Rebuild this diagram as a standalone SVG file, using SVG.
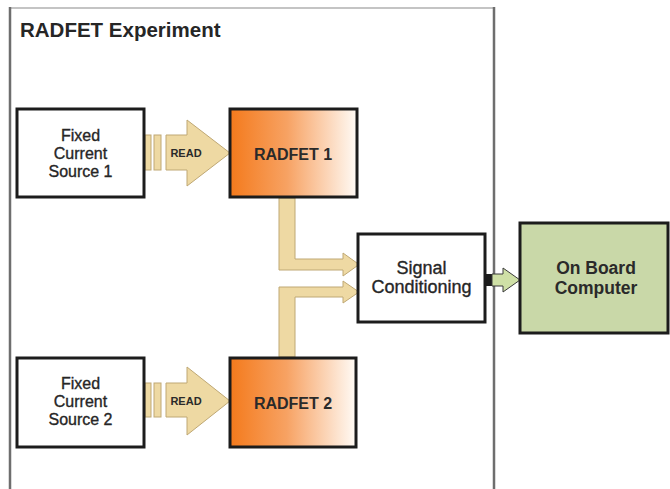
<svg xmlns="http://www.w3.org/2000/svg" width="670" height="489" viewBox="0 0 670 489">
  <defs>
    <linearGradient id="radfetFill" x1="0" y1="0" x2="1" y2="0">
      <stop offset="0" stop-color="#F47A1C"/>
      <stop offset="0.45" stop-color="#F7A263"/>
      <stop offset="1" stop-color="#FFFBF6"/>
    </linearGradient>
    <style>
      .box { stroke: #1c1c1c; stroke-width: 3; }
      .plain { fill: #ffffff; }
      .radfet { fill: url(#radfetFill); }
      .computer { fill: #C9D8A8; }
      .lbl { font-family: "Liberation Sans", Arial, sans-serif; font-size: 16px; fill: #262626; stroke: #262626; stroke-width: 0.35; text-anchor: middle; }
      .lbl-lg { font-size: 18px; }
      .bold { font-family: "Liberation Sans", Arial, sans-serif; font-weight: bold; fill: #2a2a2a; text-anchor: middle; }
      .tan { fill: #EED9A3; stroke: #BFA874; stroke-width: 1; }
      .frame-side { stroke: #6e6e6e; stroke-width: 2.5; fill: none; }
    </style>
  </defs>

  <rect width="670" height="489" fill="#ffffff"/>

  <!-- experiment enclosure -->
  <g id="experiment-frame">
    <line x1="10" y1="8" x2="494" y2="8" stroke="#c4c4c4" stroke-width="2"/>
    <line class="frame-side" x1="10" y1="7" x2="10" y2="489"/>
    <line class="frame-side" x1="494" y1="7" x2="494" y2="489"/>
    <text x="20" y="37" font-family="Liberation Sans, Arial, sans-serif" font-weight="bold" font-size="20.5" fill="#262626">RADFET Experiment</text>
  </g>

  <!-- connectors -->
  <g id="connectors">
    <!-- read arrow 1 -->
    <rect class="tan" x="145" y="135" width="6" height="35"/>
    <rect class="tan" x="154" y="135" width="7" height="35"/>
    <polygon class="tan" points="166,135 187,135 187,120 230,153 187,186 187,170 166,170"/>
    <text x="186" y="157" class="bold" font-size="11" fill="#4a3c22">READ</text>

    <!-- read arrow 2 -->
    <rect class="tan" x="145" y="383" width="6" height="34"/>
    <rect class="tan" x="154" y="383" width="7" height="34"/>
    <polygon class="tan" points="166,383 187,383 187,367 230,401 187,435 187,417 166,417"/>
    <text x="186" y="405" class="bold" font-size="11" fill="#4a3c22">READ</text>

    <!-- RADFET 1 to signal conditioning -->
    <polygon class="tan" points="279,198 295,198 295,259 343,259 343,253 359,264.5 343,276 343,270 279,270"/>
    <!-- RADFET 2 to signal conditioning -->
    <polygon class="tan" points="279,357 279,287 343,287 343,281 359,292 343,303 343,297 295,297 295,357"/>

    <!-- signal conditioning to on board computer -->
    <rect x="484" y="274" width="8" height="12" fill="#1c1c1c"/>
    <polygon points="492,274 503,274 503,268 520,280 503,292 503,286 492,286" fill="#CFE0A6" stroke="#3a3a3a" stroke-width="1"/>
  </g>

  <g id="fixed-current-source-1">
    <rect class="box plain" x="17" y="109" width="127" height="88"/>
    <text class="lbl" x="80.5" y="141">Fixed</text>
    <text class="lbl" x="80.5" y="159">Current</text>
    <text class="lbl" x="80.5" y="177">Source 1</text>
  </g>

  <g id="radfet-1">
    <rect class="box radfet" x="230" y="109" width="127" height="88"/>
    <text class="bold" x="293" y="160" font-size="16">RADFET 1</text>
  </g>

  <g id="fixed-current-source-2">
    <rect class="box plain" x="17" y="358" width="127" height="89"/>
    <text class="lbl" x="80.5" y="389">Fixed</text>
    <text class="lbl" x="80.5" y="407">Current</text>
    <text class="lbl" x="80.5" y="425">Source 2</text>
  </g>

  <g id="radfet-2">
    <rect class="box radfet" x="230" y="358" width="126" height="89"/>
    <text class="bold" x="293" y="409" font-size="16">RADFET 2</text>
  </g>

  <g id="signal-conditioning">
    <rect class="box plain" x="358" y="234" width="127" height="88"/>
    <text class="lbl lbl-lg" x="421.5" y="274">Signal</text>
    <text class="lbl lbl-lg" x="421.5" y="293">Conditioning</text>
  </g>

  <g id="on-board-computer">
    <rect class="box computer" x="520" y="223" width="148" height="110"/>
    <text class="bold" x="596" y="274" font-size="17.5">On Board</text>
    <text class="bold" x="596" y="294" font-size="17.5">Computer</text>
  </g>
</svg>
